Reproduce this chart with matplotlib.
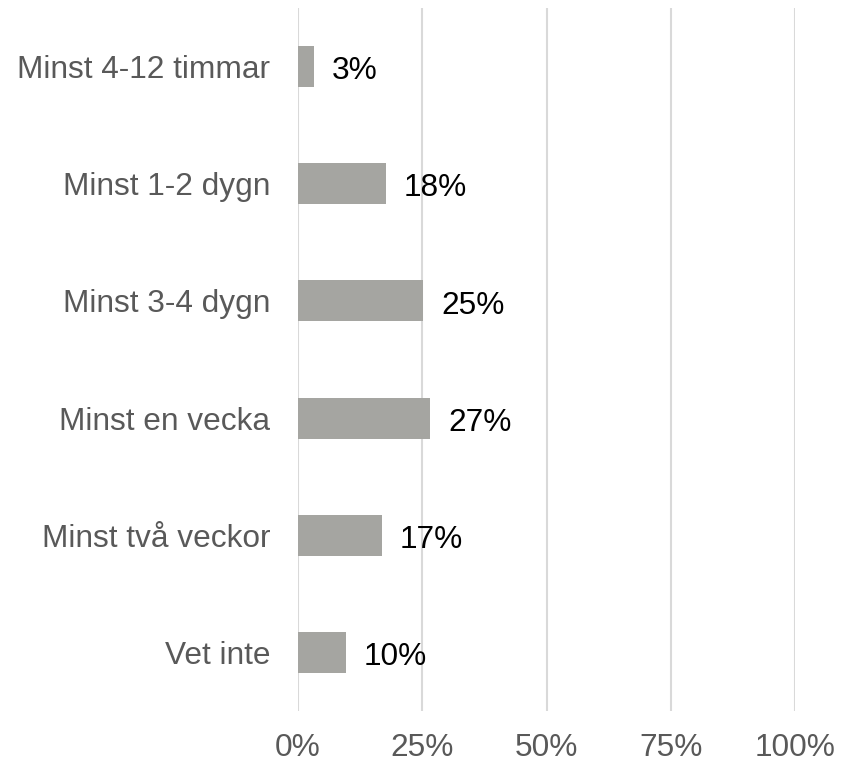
import matplotlib
matplotlib.use('Agg')
import matplotlib.pyplot as plt

plt.rcParams['font.family'] = ['Liberation Sans', 'DejaVu Sans']

categories = ['Minst 4-12 timmar', 'Minst 1-2 dygn', 'Minst 3-4 dygn',
              'Minst en vecka', 'Minst två veckor', 'Vet inte']
values = [3.2, 17.7, 25.2, 26.6, 16.9, 9.7]
labels = ['3%', '18%', '25%', '27%', '17%', '10%']
xticks = [0, 25, 50, 75, 100]
xticklabels = ['0%', '25%', '50%', '75%', '100%']

fig = plt.figure(figsize=(8.41, 7.64), dpi=100)
ax = fig.add_axes([298 / 841, 1 - 711 / 764, 497 / 841, 703 / 764])

pos = list(range(len(categories)))
ax.barh(pos, values, height=0.35, color='#A5A5A1', zorder=3)
for p, v, t in zip(pos, values, labels):
    ax.text(v + 3.6, p + 0.04, t, va='center', ha='left', fontsize=22.8, color='black')

ax.set_xlim(0, 100)
ax.set_ylim(5.5, -0.5)
ax.set_xticks(xticks)
ax.set_xticklabels(xticklabels)
ax.set_yticks(pos)
ax.set_yticklabels(categories)
ax.tick_params(axis='x', length=0, pad=16, labelsize=22.8, labelcolor='#595959')
ax.tick_params(axis='y', length=0, pad=20, labelsize=22.8, labelcolor='#595959')
ax.grid(axis='x', color='#D9D9D9', linewidth=1.5, zorder=0)
for s in ax.spines.values():
    s.set_visible(False)

fig.savefig('out.png', dpi=100)
